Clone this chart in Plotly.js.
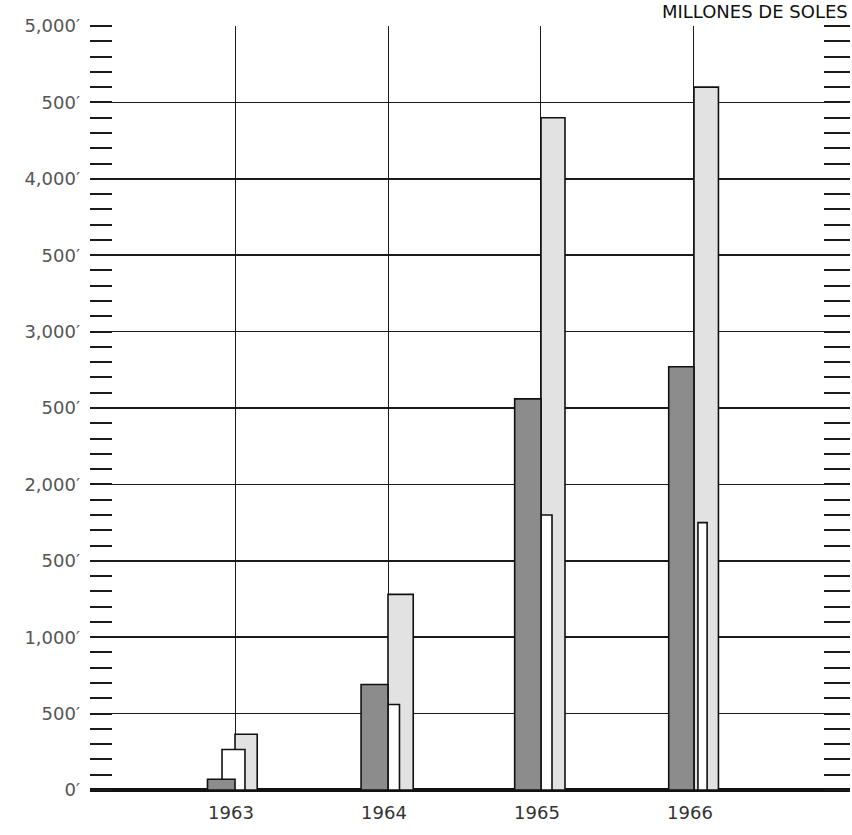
<!DOCTYPE html>
<html>
<head>
<meta charset="utf-8">
<script src="https://cdn.plot.ly/plotly-3.0.1.min.js"></script>
<style>
  html, body { margin: 0; padding: 0; background: #fff; }
  #chart { width: 852px; height: 835px; }
</style>
</head>
<body>
<div id="chart"></div>
<script>
// ---- data ----
const years = ['1963', '1964', '1965', '1966'];
const darkValues  = [70, 690, 2560, 2770];     // dark grey bars
const whiteValues = [265, 560, 1800, 1750];    // white bars
const lightValues = [365, 1280, 4400, 4600];   // light grey bars
const yTickValues = [0, 500, 1000, 1500, 2000, 2500, 3000, 3500, 4000, 4500, 5000];
const yTickLabels = ['0\u2032', '500\u2032', '1,000\u2032', '500\u2032', '2,000\u2032', '500\u2032',
                     '3,000\u2032', '500\u2032', '4,000\u2032', '500\u2032', '5,000\u2032'];
const unitLabel = 'MILLONES DE SOLES';

const xPos = years.map((_, i) => i);
const font = 'DejaVu Sans, Liberation Sans, Arial, sans-serif';
const outline = { color: '#111', width: 1.6 };

const traces = [
  { type: 'bar', x: xPos, y: lightValues, base: 0,
    offset: [0, 0, 0, 0], width: [0.145, 0.165, 0.157, 0.16],
    marker: { color: '#e2e2e2', line: outline }, hoverinfo: 'skip' },
  { type: 'bar', x: xPos, y: whiteValues, base: 0,
    offset: [-0.085, 0, 0, 0.026], width: [0.15, 0.075, 0.072, 0.06],
    marker: { color: '#ffffff', line: outline }, hoverinfo: 'skip' },
  { type: 'bar', x: xPos, y: darkValues, base: 0,
    offset: [-0.18, -0.176, -0.172, -0.165], width: [0.18, 0.176, 0.172, 0.165],
    marker: { color: '#8c8c8c', line: outline }, hoverinfo: 'skip' },
  { type: 'scatter', x: [], y: [], yaxis: 'y2', hoverinfo: 'skip' }
];

const layout = {
  width: 852, height: 835,
  margin: { l: 90, r: 2, t: 26, b: 45 },
  paper_bgcolor: '#fff', plot_bgcolor: '#fff',
  showlegend: false,
  barmode: 'overlay',
  font: { family: font, color: '#444' },
  title: { text: unitLabel, x: 0.997, xanchor: 'right', xref: 'paper',
           y: 0.986, yanchor: 'middle', yref: 'container',
           font: { family: font, size: 18, color: '#111' } },
  xaxis: {
    range: [-0.948, 4.02],
    tickmode: 'array', tickvals: xPos, ticktext: years,
    showgrid: true, gridcolor: '#1a1a1a', gridwidth: 1,
    zeroline: false, showline: false, ticks: '',
    ticklabelshift: -4, ticklabelstandoff: 10,
    tickfont: { family: font, size: 18, color: '#333' }
  },
  yaxis: {
    range: [0, 5000],
    tickmode: 'array', tickvals: yTickValues, ticktext: yTickLabels,
    showgrid: true, gridcolor: '#1a1a1a', gridwidth: 1.6,
    zeroline: true, zerolinecolor: '#111', zerolinewidth: 3.5,
    showline: false, ticks: '', ticklabelstandoff: 9,
    tickfont: { family: font, size: 18, color: '#555' },
    minor: { dtick: 100, ticks: 'inside', ticklen: 22, tickwidth: 2, tickcolor: '#1a1a1a', showgrid: false }
  },
  yaxis2: {
    range: [0, 5000], overlaying: 'y', side: 'right',
    showgrid: false, zeroline: false, showline: false,
    showticklabels: false, ticks: '', tickvals: yTickValues,
    minor: { dtick: 100, ticks: 'inside', ticklen: 26, tickwidth: 2, tickcolor: '#1a1a1a', showgrid: false }
  }
};

Plotly.newPlot('chart', traces, layout, { displayModeBar: false, staticPlot: true });
</script>
</body>
</html>
